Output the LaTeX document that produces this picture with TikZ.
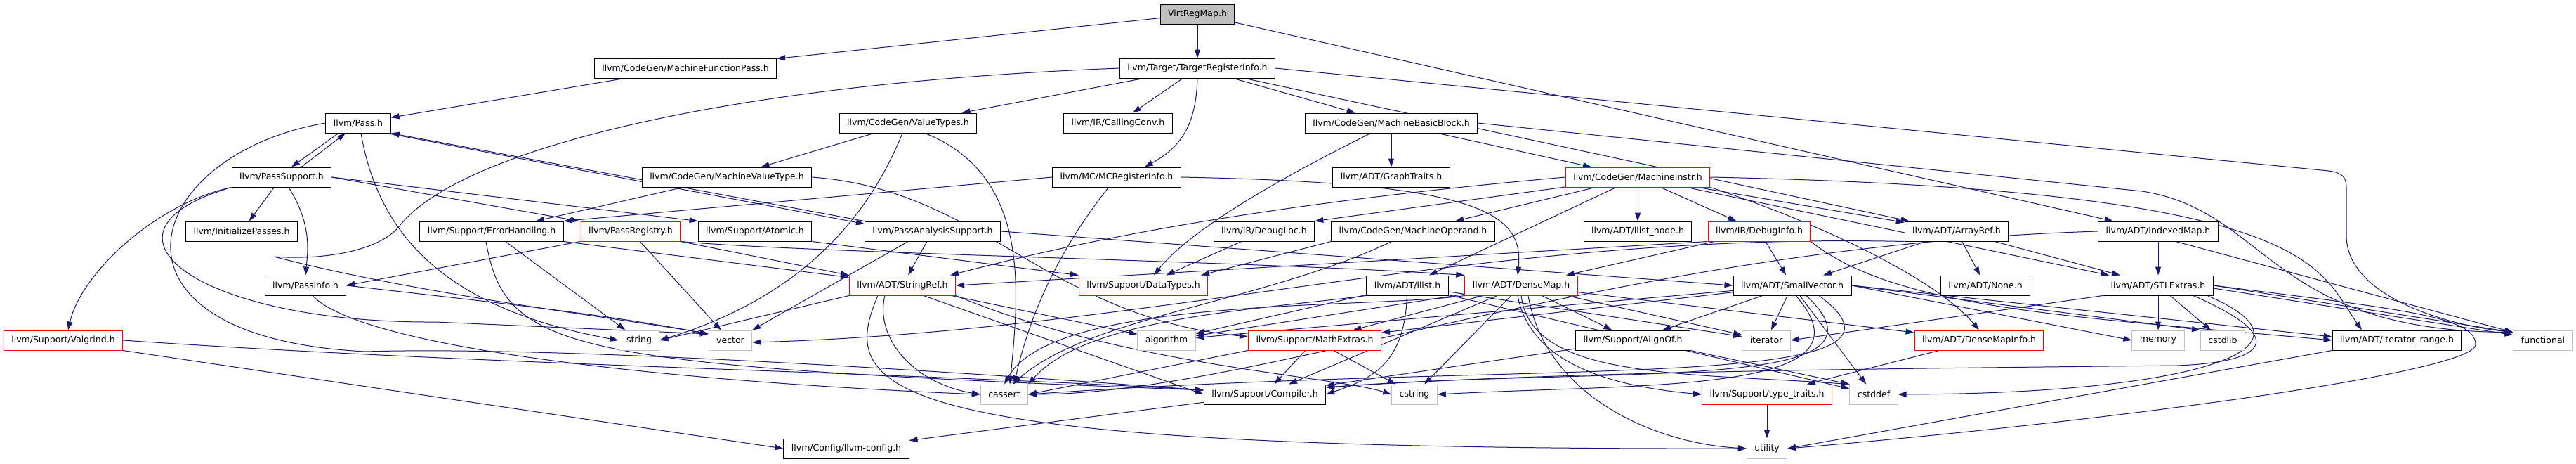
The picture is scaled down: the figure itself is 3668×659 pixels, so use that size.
\documentclass[tikz,border=0pt]{standalone}
\usepackage{fontspec}
\setmainfont{DejaVu Sans}
\usetikzlibrary{arrows.meta,backgrounds}
\definecolor{edgeblue}{HTML}{191970}
\definecolor{sysgrey}{HTML}{BFBFBF}
\begin{document}
\begin{tikzpicture}[x=1pt,y=-1pt,
	hdr/.style={draw=black,fill=white,line width=1pt,inner xsep=11pt,inner ysep=0pt,minimum height=28pt,font=\fontsize{12.5}{15}\selectfont},
	trunc/.style={hdr,draw=red},
	sys/.style={hdr,draw=sysgrey},
	root/.style={hdr,fill=sysgrey},
	dep/.style={draw=edgeblue,line width=1pt,-{Triangle[length=12pt,width=8pt]}}]
	\useasboundingbox (0,0) rectangle (3668,659);
	\node[root] (vrm) at (1705,20) {VirtRegMap.h};
	\node[hdr] (mfp) at (976,97) {llvm/CodeGen/MachineFunctionPass.h};
	\node[hdr] (tri) at (1705,97) {llvm/Target/TargetRegisterInfo.h};
	\node[hdr] (pass) at (510,175) {llvm/Pass.h};
	\node[hdr] (vt) at (1293,175) {llvm/CodeGen/ValueTypes.h};
	\node[hdr] (cc) at (1592,175) {llvm/IR/CallingConv.h};
	\node[hdr] (mbb) at (1981,175) {llvm/CodeGen/MachineBasicBlock.h};
	\node[hdr] (ps) at (401,252) {llvm/PassSupport.h};
	\node[hdr] (mvt) at (1035,252) {llvm/CodeGen/MachineValueType.h};
	\node[hdr] (mcri) at (1590,252) {llvm/MC/MCRegisterInfo.h};
	\node[hdr] (gt) at (1981,252) {llvm/ADT/GraphTraits.h};
	\node[trunc] (mi) at (2332,252) {llvm/CodeGen/MachineInstr.h};
	\node[hdr] (ip) at (344,329) {llvm/InitializePasses.h};
	\node[hdr] (eh) at (700,329) {llvm/Support/ErrorHandling.h};
	\node[trunc] (preg) at (898,329) {llvm/PassRegistry.h};
	\node[hdr] (atomic) at (1075,329) {llvm/Support/Atomic.h};
	\node[hdr] (pas) at (1328,329) {llvm/PassAnalysisSupport.h};
	\node[hdr] (dloc) at (1800,329) {llvm/IR/DebugLoc.h};
	\node[hdr] (mop) at (2012,329) {llvm/CodeGen/MachineOperand.h};
	\node[hdr] (ilnode) at (2332,329) {llvm/ADT/ilist\_node.h};
	\node[trunc] (dinfo) at (2505,329) {llvm/IR/DebugInfo.h};
	\node[hdr] (aref) at (2786,329) {llvm/ADT/ArrayRef.h};
	\node[hdr] (imap) at (3073,329) {llvm/ADT/IndexedMap.h};
	\node[hdr] (pinfo) at (435,406) {llvm/PassInfo.h};
	\node[trunc] (sref) at (1285,406) {llvm/ADT/StringRef.h};
	\node[trunc] (dtypes) at (1628,406) {llvm/Support/DataTypes.h};
	\node[hdr] (ilist) at (2004,406) {llvm/ADT/ilist.h};
	\node[trunc] (dmap) at (2166,406) {llvm/ADT/DenseMap.h};
	\node[hdr] (svec) at (2552,406) {llvm/ADT/SmallVector.h};
	\node[hdr] (none) at (2827,406) {llvm/ADT/None.h};
	\node[hdr] (stlx) at (3073,406) {llvm/ADT/STLExtras.h};
	\node[trunc] (valgrind) at (90,484) {llvm/Support/Valgrind.h};
	\node[sys] (string) at (910,484) {string};
	\node[sys] (vector) at (1040,484) {vector};
	\node[sys] (algorithm) at (1661,484) {algorithm};
	\node[trunc] (mathx) at (1872,484) {llvm/Support/MathExtras.h};
	\node[hdr] (alignof) at (2325,484) {llvm/Support/AlignOf.h};
	\node[sys] (iterator) at (2515,484) {iterator};
	\node[trunc] (dmi) at (2818,484) {llvm/ADT/DenseMapInfo.h};
	\node[sys] (memory) at (3073,484) {memory};
	\node[sys] (cstdlib) at (3165,484) {cstdlib};
	\node[hdr] (itrange) at (3413,484) {llvm/ADT/iterator\_range.h};
	\node[sys] (functional) at (3621,484) {functional};
	\node[sys] (cassert) at (1430,561) {cassert};
	\node[hdr] (compiler) at (1801,561) {llvm/Support/Compiler.h};
	\node[sys] (cstring) at (2014,561) {cstring};
	\node[trunc] (ttraits) at (2516,561) {llvm/Support/type\_traits.h};
	\node[sys] (cstddef) at (2668,561) {cstddef};
	\node[hdr] (config) at (1205,638) {llvm/Config/llvm-config.h};
	\node[sys] (utility) at (2516,638) {utility};
	\begin{scope}[on background layer]
		\draw[dep] (vrm) -- (mfp);
		\draw[dep] (vrm) -- (tri);
		\draw[dep] (vrm) -- (imap);
		\draw[dep] (mfp) -- (pass);
		\draw[dep] (tri) -- (vt);
		\draw[dep] (tri) -- (cc);
		\draw[dep] (tri.south) .. controls (1703,180) and (1680,210) .. ([xshift=40pt]mcri.north);
		\draw[dep] (tri) -- (mbb);
		\draw[dep] (tri) -- (aref);
		\draw[dep] (tri.east) -- (3316,243) .. controls (3336,246) and (3341,252) .. (3341,268) -- (3341,335) .. controls (3341,420) and (3480,462) .. (functional.165);
		\draw[dep] (tri.west) .. controls (1000,120) and (650,220) .. (570,320) .. controls (540,360) and (450,370) .. (390,365) .. controls (600,420) and (900,455) .. ([yshift=9pt]vector.west);
		\draw[dep] ([xshift=-28pt]pass.south) -- ([xshift=14pt]ps.north);
		\draw[dep] ([xshift=28pt]ps.north) -- ([xshift=-18pt]pass.south);
		\draw[dep] ([xshift=-6pt]pass.south east) -- ([yshift=-4pt]pas.north west);
		\draw[dep] (pas.north west) -- (pass.south east);
		\draw[dep] ([xshift=4pt]pass.south) .. controls (540,340) and (640,440) .. (string.west);
		\draw[dep] (pass.west) .. controls (200,220) and (120,480) .. (520,500) .. controls (800,492) and (1350,528) .. ([yshift=6pt]compiler.west);
		\draw[dep] (ps) -- (ip);
		\draw[dep] ([xshift=10pt]ps.south) .. controls (445,320) and (438,360) .. (pinfo.north);
		\draw[dep] (ps.south west) .. controls (220,290) and (115,390) .. ([xshift=7pt]valgrind.north);
		\draw[dep] (ps.south west) .. controls (110,330) and (280,460) .. (620,458) -- ([yshift=9pt]vector.west);
		\draw[dep] (ps.east) -- ([xshift=-2pt]preg.north west);
		\draw[dep] (ps.east) -- (atomic.north west);
		\draw[dep] (pinfo.east) .. controls (700,430) and (850,445) .. ([yshift=9pt]vector.west);
		\draw[dep] ([xshift=10pt]pinfo.south) .. controls (520,500) and (1000,545) .. (cassert.west);
		\draw[dep] (preg.south west) -- (pinfo.east);
		\draw[dep] (preg.south east) -- (sref.north west);
		\draw[dep] (preg) -- (vector);
		\draw[dep] (preg.south east) .. controls (1150,360) and (1800,372) .. (dmap.north west);
		\draw[dep] (atomic.south east) -- (dtypes.north west);
		\draw[dep] (pas) -- (sref);
		\draw[dep] ([xshift=-35pt]pas.south) -- (vector.north east);
		\draw[dep] (pas.east) -- (svec.west);
		\draw[dep] (eh) -- (string);
		\draw[dep] (eh.south east) -- ([yshift=-3pt]sref.north west);
		\draw[dep] ([xshift=-8pt]eh.south) .. controls (720,500) and (800,520) .. ([yshift=6pt]compiler.west);
		\draw[dep] (mvt) -- (eh);
		\draw[dep] (mvt.east) .. controls (1400,270) and (1490,450) .. ([yshift=5pt]mathx.west);
		\draw[dep] (vt) -- (mvt);
		\draw[dep] ([xshift=-8pt]vt.south) .. controls (1240,300) and (1150,420) .. (string.east);
		\draw[dep] ([xshift=24pt]vt.south) .. controls (1470,250) and (1450,420) .. ([xshift=8pt]cassert.north);
		\draw[dep] (mcri.west) -- (eh.north east);
		\draw[dep] (mcri.east) .. controls (2100,260) and (2170,300) .. ([xshift=-5pt]dmap.north);
		\draw[dep] (mcri) .. controls (1520,340) and (1470,430) .. ([xshift=14pt]cassert.north);
		\draw[dep] (mbb) -- (gt);
		\draw[dep] (mbb) -- (mi);
		\draw[dep] (mbb) .. controls (1850,240) and (1700,320) .. ([xshift=15pt]dtypes.north);
		\draw[dep] (mbb.east) -- (3050,272) .. controls (3230,300) and (3230,470) .. (functional.165);
		\draw[dep] (mi) -- (dloc.north east);
		\draw[dep] (mi) -- (mop);
		\draw[dep] (mi) -- (ilnode);
		\draw[dep] (mi) -- (dinfo);
		\draw[dep] (mi) -- (aref);
		\draw[dep] (mi) -- (ilist);
		\draw[dep] (mi) -- (stlx);
		\draw[dep] (mi.west) .. controls (1800,290) and (1550,340) .. ([xshift=-8pt]sref.north east);
		\draw[dep] (mi.south east) .. controls (2600,320) and (2760,400) .. (dmi.north);
		\draw[dep] (mi.east) .. controls (3300,270) and (3300,380) .. ([xshift=-50pt]itrange.north);
		\draw[dep] (dinfo) -- (svec);
		\draw[dep] (dinfo) -- (dmap);
		\draw[dep] (dinfo.south west) -- (sref.east);
		\draw[dep] (dinfo.south east) .. controls (2700,440) and (2950,450) .. (itrange.west);
		\draw[dep] (dloc) -- (dtypes);
		\draw[dep] (mop.south west) -- ([xshift=-10pt]dtypes.north east);
		\draw[dep] (mop) .. controls (1800,430) and (1550,450) .. ([xshift=12pt]cassert.north);
		\draw[dep] (aref) -- (none);
		\draw[dep] (aref) -- (svec);
		\draw[dep] (aref) -- (stlx);
		\draw[dep] (aref.south west) .. controls (2100,330) and (1650,470) .. ([yshift=-3pt]vector.east);
		\draw[dep] (imap) -- (stlx);
		\draw[dep] ([xshift=25pt]imap.south) -- (functional.165);
		\draw[dep] (imap.west) .. controls (2300,350) and (1800,560) .. (cassert.east);
		\draw[dep] (sref.south west) -- (string.east);
		\draw[dep] (sref) -- (algorithm);
		\draw[dep] ([xshift=30pt]sref.south) -- (compiler.west);
		\draw[dep] (sref.south east) .. controls (1600,520) and (1900,535) .. (cstring.west);
		\draw[dep] ([xshift=-25pt]sref.south) .. controls (1245,480) and (1300,545) .. (cassert.west);
		\draw[dep] ([xshift=-35pt]sref.south) .. controls (1190,560) and (1250,640) .. (utility.west);
		\draw[dep] (ilist) -- (algorithm);
		\draw[dep] (ilist) .. controls (2000,520) and (1950,540) .. (compiler.east);
		\draw[dep] (ilist.south west) .. controls (1800,440) and (1550,450) .. (cassert.north east);
		\draw[dep] (ilist) -- (cstddef);
		\draw[dep] (ilist) -- (iterator);
		\draw[dep] (dmap) -- (mathx);
		\draw[dep] (dmap) -- (alignof);
		\draw[dep] (dmap) -- (compiler);
		\draw[dep] (dmap) -- (cstring);
		\draw[dep] (dmap) -- (algorithm);
		\draw[dep] (dmap.south west) .. controls (1950,440) and (1500,420) .. (cassert.north);
		\draw[dep] (dmap) -- (iterator);
		\draw[dep] (dmap) -- (dmi);
		\draw[dep] ([xshift=-5pt]dmap.south) .. controls (2180,520) and (2300,550) .. (ttraits.west);
		\draw[dep] (dmap.south) .. controls (2180,540) and (2400,530) .. (cstddef.north west);
		\draw[dep] ([xshift=10pt]dmap.south) .. controls (2200,560) and (2350,630) .. (utility.west);
		\draw[dep] (svec) -- (iterator);
		\draw[dep] (svec) -- (alignof);
		\draw[dep] (svec) -- (mathx);
		\draw[dep] (svec) -- (algorithm);
		\draw[dep] (svec.east) -- (memory.west);
		\draw[dep] (svec.east) -- (cstdlib.north west);
		\draw[dep] (svec.east) -- ([yshift=5pt]itrange.west);
		\draw[dep] (svec) -- (cstddef);
		\draw[dep] ([xshift=5pt]svec.south) .. controls (2680,560) and (2350,545) .. (cstring.east);
		\draw[dep] ([xshift=20pt]svec.south) .. controls (2720,560) and (2300,520) .. ([yshift=10pt]compiler.east);
		\draw[dep] ([xshift=38pt]svec.south) .. controls (2780,560) and (2200,510) .. (cassert.east);
		\draw[dep] (stlx) -- (memory);
		\draw[dep] (stlx) -- (cstdlib);
		\draw[dep] (stlx.east) -- (functional.165);
		\draw[dep] ([yshift=-4pt]stlx.east) -- (functional.170);
		\draw[dep] (stlx.south west) -- (iterator.east);
		\draw[dep] ([xshift=50pt]stlx.south) .. controls (3260,480) and (3230,515) .. (3100,520) .. controls (2600,525) and (2200,530) .. ([yshift=10pt]compiler.east);
		\draw[dep] ([xshift=70pt]stlx.south) .. controls (3330,500) and (3100,560) .. (cstddef.east);
		\draw[dep] (stlx.east) .. controls (3420,440) and (3525,450) .. (3525,490) .. controls (3525,530) and (3000,600) .. (utility.east);
		\draw[dep] (mathx) -- (compiler);
		\draw[dep] (mathx) -- (cstring);
		\draw[dep] (mathx.south west) -- (cassert.east);
		\draw[dep] (alignof) -- (compiler);
		\draw[dep] (alignof.south east) -- (cstddef.north west);
		\draw[dep] (dmi) -- (ttraits);
		\draw[dep] (ttraits) -- (utility);
		\draw[dep] (itrange.south west) -- (utility.east);
		\draw[dep] (compiler) -- (config);
		\draw[dep] (valgrind.east) .. controls (700,520) and (1300,530) .. ([yshift=6pt]compiler.west);
		\draw[dep] (valgrind.south east) -- (config.west);
	\end{scope}
\end{tikzpicture}
\end{document}
